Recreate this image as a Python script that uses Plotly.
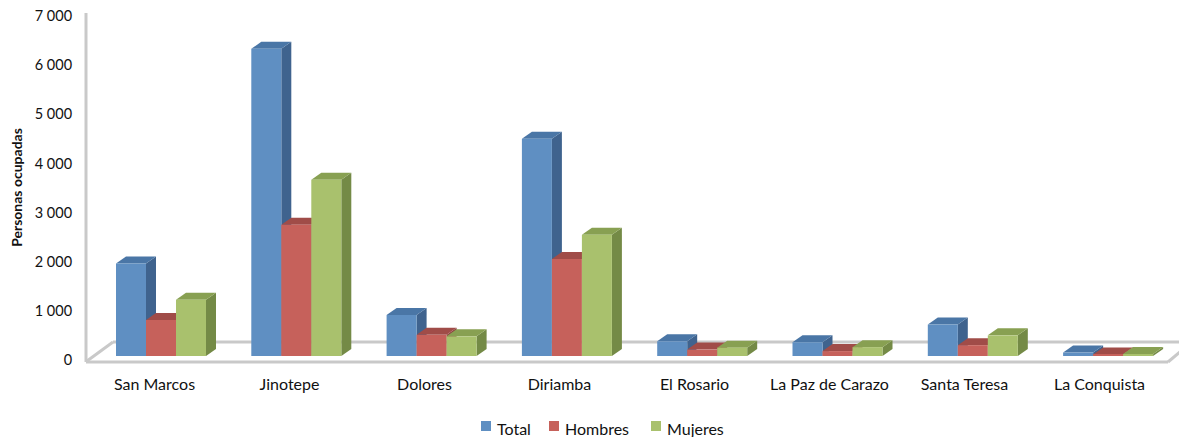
import plotly.graph_objects as go

categories = ["San Marcos", "Jinotepe", "Dolores", "Diriamba", "El Rosario",
              "La Paz de Carazo", "Santa Teresa", "La Conquista"]
total = [1880, 6250, 835, 4420, 300, 280, 640, 70]
hombres = [735, 2670, 430, 1975, 130, 100, 220, 30]
mujeres = [1145, 3585, 400, 2465, 170, 180, 420, 40]
y_ticks = [0, 1000, 2000, 3000, 4000, 5000, 6000, 7000]
y_labels = ["0", "1 000", "2 000", "3 000", "4 000", "5 000", "6 000", "7 000"]

# the page has an 8px body margin: the figure is 8px smaller and all layout
# positions below are given in window pixels and converted with PAGE
PAGE = 8
W, H = 1187 - PAGE, 437 - PAGE
L, R, T, B = 86 - PAGE, 1187 - PAGE, 10 - PAGE, 365 - PAGE
PX_PER_CAT = 135.0
PX_PER_VAL = 344 / 7000
X0 = 154.5 - PAGE
Y0 = 360 - PAGE
GROUP_SHIFT = 6.5 / PX_PER_CAT
GROUP_STEP = 135.3 / PX_PER_CAT
BAR_W = 30 / PX_PER_CAT
DX = 10 / PX_PER_CAT
DY = 7 / PX_PER_VAL
BASE = 4 / PX_PER_VAL

xrange = [(L - X0) / PX_PER_CAT, (R - X0) / PX_PER_CAT]
yrange = [(Y0 - B) / PX_PER_VAL, (Y0 - T) / PX_PER_VAL]

series = [
    ("Total", total, "#5f8fc2", "#3f638e", "#4a76a6", -1),
    ("Hombres", hombres, "#c6615b", "#8f4440", "#a04c48", 0),
    ("Mujeres", mujeres, "#a9c16d", "#748a46", "#88a052", 1),
]

fig = go.Figure()

# side and top faces, under the front faces
for name, vals, front, side, top, pos in series:
    for i, v in enumerate(vals):
        left = i * GROUP_STEP + GROUP_SHIFT + (pos - 0.5) * BAR_W
        right = left + BAR_W
        head = BASE + v
        fig.add_trace(go.Scatter(
            x=[right, right + DX, right + DX, right, right],
            y=[BASE, BASE + DY, head + DY, head, BASE],
            mode="lines", fill="toself", fillcolor=side, line=dict(width=0),
            hoverinfo="skip", showlegend=False, xaxis="x", yaxis="y"))
        fig.add_trace(go.Scatter(
            x=[left, right, right + DX, left + DX, left],
            y=[head, head, head + DY, head + DY, head],
            mode="lines", fill="toself", fillcolor=top, line=dict(width=0),
            hoverinfo="skip", showlegend=False, xaxis="x", yaxis="y"))

# front faces
for name, vals, front, side, top, pos in series:
    fig.add_trace(go.Bar(
        name=name,
        x=[i * GROUP_STEP + GROUP_SHIFT + pos * BAR_W for i in range(len(categories))],
        y=vals, base=BASE, width=BAR_W, marker=dict(color=front, line=dict(width=0)),
        showlegend=False, xaxis="x2", yaxis="y2"))


def px(x):
    return (x - PAGE - L) / (R - L)


def py(y):
    return (B - (y - PAGE)) / (B - T)


frame = [
    (86, 13, 86, 362), (86, 362, 1168, 362), (87, 361, 113, 342),
    (113, 342, 1187, 342), (1168, 362, 1187, 346),
]
shapes = [dict(type="line", xref="paper", yref="paper", layer="below",
               x0=px(a), y0=py(b), x1=px(c), y1=py(d),
               line=dict(color="#c9c9c9", width=3)) for a, b, c, d in frame]

# legend keys and labels
legend_pos = [(481, 495), (549, 563), (651, 665)]
annotations = []
for (name, vals, front, side, top, pos), (kx, tx) in zip(series, legend_pos):
    shapes.append(dict(type="rect", xref="paper", yref="paper", layer="above",
                       x0=px(kx), x1=px(kx + 10), y0=py(431), y1=py(421),
                       fillcolor=front, line=dict(width=0)))
    annotations.append(dict(text=name, xref="paper", yref="paper", x=px(tx), y=py(428),
                            xanchor="left", yanchor="middle", showarrow=False,
                            font=dict(size=16)))

fig.update_layout(
    width=W, height=H, autosize=False,
    margin=dict(l=L, r=W - R, t=T, b=H - B, pad=0),
    paper_bgcolor="white", plot_bgcolor="white",
    barmode="overlay", shapes=shapes, annotations=annotations, showlegend=False,
    font=dict(family="Lato, Open Sans, sans-serif", size=14.5, color="#111111"),
    xaxis=dict(range=xrange, tickmode="array", tickvals=list(range(len(categories))),
               ticktext=categories, showgrid=False, zeroline=False, showline=False,
               ticks="outside", ticklen=5, tickcolor="rgba(0,0,0,0)",
               tickfont=dict(size=16)),
    yaxis=dict(range=yrange, tickmode="array", tickvals=y_ticks, ticktext=y_labels,
               showgrid=False, zeroline=False, showline=False,
               ticks="outside", ticklen=10, tickcolor="rgba(0,0,0,0)",
               ticklabeloverflow="allow",
               title=dict(text="<b>Personas ocupadas</b>", font=dict(size=14), standoff=10)),
    xaxis2=dict(range=xrange, overlaying="x", visible=False),
    yaxis2=dict(range=yrange, overlaying="y", visible=False),
)

fig.write_html("out.html")
